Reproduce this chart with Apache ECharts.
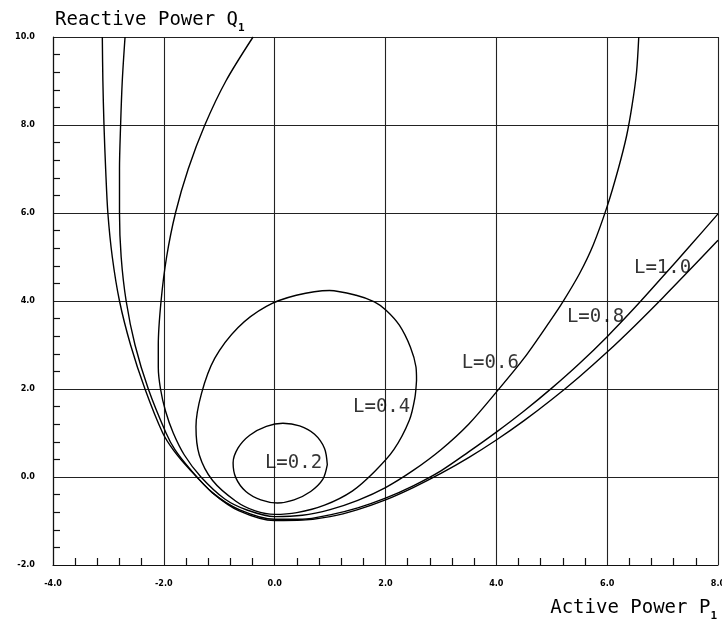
<!DOCTYPE html>
<html>
<head>
<meta charset="utf-8">
<script src="https://cdn.jsdelivr.net/npm/echarts@6/dist/echarts.min.js"></script>
<style>
  html, body { margin: 0; padding: 0; background: #fff; }
  #main { width: 722px; height: 619px; }
</style>
</head>
<body>
<div id="main"></div>
<script>
// curves, [P, Q] pairs in plot units
var curveL02 = [
    [0.95, 0.28], [0.90, 0.65], [0.72, 0.97], [0.45, 1.16], [0.15, 1.22],
    [-0.15, 1.15], [-0.45, 0.95], [-0.66, 0.66], [-0.75, 0.32], [-0.70, -0.02],
    [-0.52, -0.33], [-0.25, -0.52], [0.05, -0.59], [0.35, -0.52], [0.65, -0.33],
    [0.87, -0.05], [0.95, 0.28]
];
var curveL04 = [
    [2.56, 2.20], [2.53, 1.80], [2.43, 1.29], [2.15, 0.62], [1.80, 0.12],
    [1.40, -0.32], [0.90, -0.64], [0.40, -0.81], [0.00, -0.85], [-0.35, -0.77],
    [-0.70, -0.55], [-1.12, -0.08], [-1.36, 0.50], [-1.42, 1.14], [-1.32, 1.90],
    [-1.08, 2.70], [-0.66, 3.40], [-0.15, 3.88], [0.39, 4.13], [0.99, 4.24],
    [1.47, 4.13], [1.80, 3.98], [2.01, 3.79], [2.25, 3.45], [2.45, 2.95],
    [2.55, 2.50], [2.56, 2.20]
];
var curveL06 = [
    [-0.39, 10.0], [-0.88, 9.0], [-1.26, 8.0], [-1.56, 7.0], [-1.79, 6.0],
    [-1.95, 5.0], [-2.05, 4.0], [-2.10, 3.0], [-2.10, 2.5], [-2.06, 2.0],
    [-1.97, 1.5], [-1.83, 1.0], [-1.63, 0.5], [-1.33, 0.0], [-0.90, -0.5],
    [-0.50, -0.75], [0.00, -0.90], [0.50, -0.87], [1.00, -0.74], [1.50, -0.53],
    [2.00, -0.24], [2.50, 0.15], [3.00, 0.62], [3.50, 1.20], [4.00, 1.93],
    [4.50, 2.70], [5.00, 3.60], [5.20, 3.98], [5.50, 4.62], [5.75, 5.28],
    [6.00, 6.15], [6.20, 7.00], [6.35, 7.75], [6.45, 8.45], [6.53, 9.20],
    [6.57, 10.0]
];
var curveL08 = [
    [-2.70, 10.0], [-2.75, 9.0], [-2.78, 8.0], [-2.80, 7.0], [-2.80, 6.0],
    [-2.77, 5.0], [-2.68, 4.0], [-2.52, 3.0], [-2.28, 2.0], [-1.96, 1.0],
    [-1.80, 0.62], [-1.54, 0.20], [-1.12, -0.36], [-0.64, -0.74], [0.00, -0.96],
    [0.50, -0.96], [1.00, -0.86], [1.50, -0.70], [2.00, -0.48], [2.50, -0.20],
    [3.00, 0.14], [3.50, 0.57], [4.00, 1.02], [4.50, 1.50], [5.00, 2.02],
    [5.50, 2.58], [6.00, 3.19], [6.50, 3.85], [7.00, 4.55], [7.50, 5.26],
    [8.00, 5.98]
];
var curveL10 = [
    [-3.11, 10.0], [-3.10, 9.0], [-3.08, 8.0], [-3.05, 7.0], [-3.01, 6.0],
    [-2.93, 5.0], [-2.80, 4.0], [-2.60, 3.0], [-2.34, 2.0], [-2.02, 1.0],
    [-1.82, 0.60], [-1.54, 0.18], [-1.12, -0.36], [-0.64, -0.77], [0.00, -0.99],
    [0.50, -0.98], [1.00, -0.90], [1.50, -0.74], [2.00, -0.52], [2.50, -0.24],
    [3.00, 0.08], [3.50, 0.44], [4.00, 0.84], [4.50, 1.28], [5.00, 1.76],
    [5.50, 2.28], [6.00, 2.84], [6.50, 3.44], [7.00, 4.07], [7.50, 4.72],
    [8.00, 5.38]
];

var curveNames = ['L=0.2', 'L=0.4', 'L=0.6', 'L=0.8', 'L=1.0'];
var curves = [curveL02, curveL04, curveL06, curveL08, curveL10];
// where each curve's tag sits, in plot units
var labelSpots = [[0.34, 0.31], [1.93, 1.58], [3.89, 2.58], [5.79, 3.63], [7.00, 4.74]];

var xTicks = { min: -4, max: 8, step: 2 };
var yTicks = { min: -2, max: 10, step: 2 };

var plotFont = '"DejaVu Sans Mono", "Liberation Mono", monospace';
var tickFont = '"DejaVu Sans Condensed", "DejaVu Sans", sans-serif';

var chartDom = document.getElementById('main');
var myChart = echarts.init(chartDom);
var option;

function axisCommon(t) {
    return {
        type: 'value',
        min: t.min,
        max: t.max,
        interval: t.step,
        axisLine: { onZero: false, lineStyle: { color: '#111', width: 1.2 } },
        axisTick: { show: false, inside: true },
        minorTick: { show: true, splitNumber: 5, length: 7, lineStyle: { color: '#111', width: 1.2 } },
        splitLine: { show: true, lineStyle: { color: '#222', width: 1.1 } },
        axisLabel: {
            color: '#000',
            fontFamily: tickFont,
            fontWeight: 'bold',
            fontSize: 9,
            formatter: function (v) { return v.toFixed(1); }
        }
    };
}

var nameRich = {
    t: { fontFamily: plotFont, fontSize: 19, color: '#000', padding: [0, 0, 4, 0] },
    s: { fontFamily: plotFont, fontSize: 11, fontWeight: 'bold', color: '#000', verticalAlign: 'bottom' }
};

var xAxis = axisCommon(xTicks);
xAxis.axisLabel.margin = 14;
xAxis.name = '{t|Active Power P}{s|1}';
xAxis.nameLocation = 'end';
xAxis.nameGap = -1;
xAxis.nameMoveOverlap = false;
xAxis.nameTextStyle = {
    align: 'right',
    verticalAlign: 'top',
    padding: [34, 0, 0, 0],
    rich: nameRich
};

var yAxis = axisCommon(yTicks);
yAxis.axisLabel.margin = 18;
yAxis.name = '{t|Reactive Power Q}{s|1}';
yAxis.nameLocation = 'end';
yAxis.nameGap = 3;
yAxis.nameMoveOverlap = false;
yAxis.nameTextStyle = {
    align: 'left',
    verticalAlign: 'bottom',
    padding: [0, 0, 0, 2],
    rich: nameRich
};

var series = curves.map(function (pts, i) {
    return {
        name: curveNames[i],
        type: 'line',
        data: pts,
        smooth: 0.3,
        showSymbol: false,
        silent: true,
        lineStyle: { color: '#000', width: 1.4 }
    };
});

series.push({
    type: 'scatter',
    symbolSize: 0,
    silent: true,
    data: labelSpots.map(function (p, i) {
        return { name: curveNames[i], value: p };
    }),
    label: {
        show: true,
        position: 'inside',
        formatter: '{b}',
        fontFamily: plotFont,
        fontSize: 19,
        color: '#000'
    }
});

option = {
    animation: false,
    backgroundColor: '#fff',
    grid: { left: 53, right: 4, top: 37, bottom: 54, outerBoundsMode: 'none' },
    xAxis: xAxis,
    yAxis: yAxis,
    series: series
};

option && myChart.setOption(option);
</script>
</body>
</html>
